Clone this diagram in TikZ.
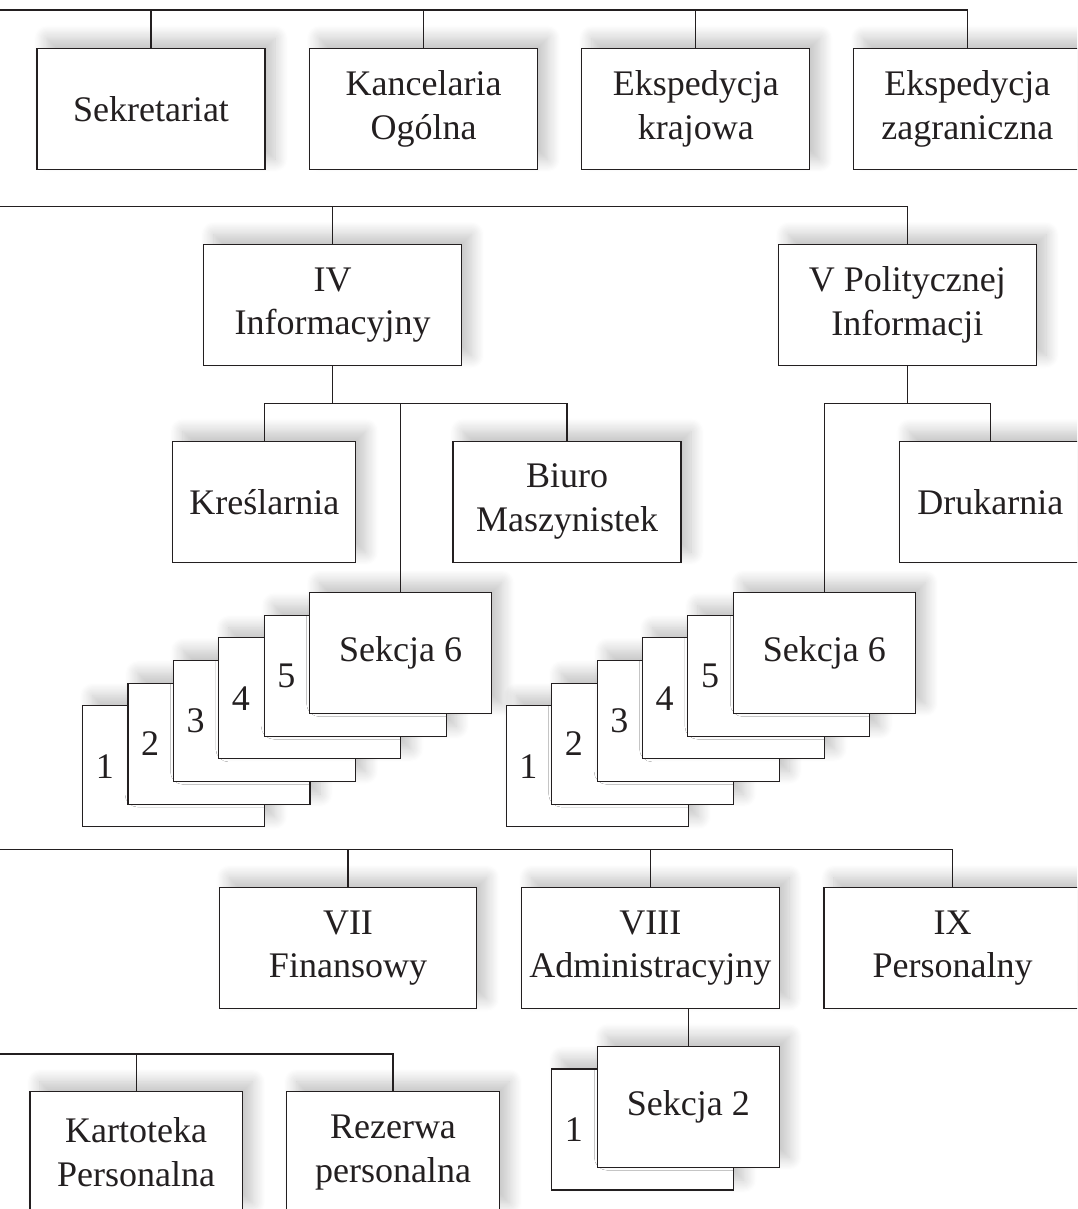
\documentclass[tikz,border=0pt]{standalone}
\usepackage{fontspec}
\setmainfont{Liberation Serif}
\usetikzlibrary{shadows.blur}
\definecolor{ink}{HTML}{231F20}
\begin{document}
\begin{tikzpicture}[x=1pt,y=-1pt,
  every node/.style={text=ink},
  unit/.style={draw=ink, line width=1.1pt, fill=white, minimum height=121pt,
    inner sep=0pt, align=center, font=\fontsize{36}{43.5}\selectfont,
    blur shadow={shadow xshift=10pt, shadow yshift=10pt,
      shadow blur radius=13pt, shadow blur steps=12, shadow opacity=24}},
  wide/.style={unit, minimum width=257.5pt},
  mid/.style={unit, minimum width=228pt},
  narrow/.style={unit, minimum width=182pt},
  card/.style={unit, minimum width=212.5pt},
  conn/.style={draw=ink, line width=1.1pt},
  num/.style={inner sep=0pt, font=\fontsize{36}{43.5}\selectfont}]
\useasboundingbox (0,0) rectangle (1077,1209);
\clip (0,0) rectangle (1077,1209);

% ---- offices under the first bus
\coordinate (bus1) at (-5,10);
\node[mid] (sek)  at (151,108.7)   {Sekretariat};
\node[mid] (kanc) at (423.6,108.7) {Kancelaria\\Ogólna};
\node[mid] (kraj) at (695.8,108.7) {Ekspedycja\\krajowa};
\node[mid] (zagr) at (967.4,108.7) {Ekspedycja\\zagraniczna};
\draw[conn] (bus1) -| (zagr.north);
\foreach \b in {sek,kanc,kraj} \draw[conn] (\b.north) -- (\b.north |- bus1);

% ---- departments IV and V
\coordinate (bus2) at (-5,206.7);
\node[wide] (dIV) at (332.6,305) {IV\\Informacyjny};
\node[wide] (dV)  at (907.3,305) {V Politycznej\\Informacji};
\draw[conn] (bus2) -| (dV.north);
\draw[conn] (dIV.north) -- (dIV.north |- bus2);

\node[narrow, minimum width=182.8pt] (kres) at (264.3,501.7) {Kreślarnia};
\node[mid] (biuro) at (567,501.7) {Biuro\\Maszynistek};
\node[narrow] (druk) at (990.3,502) {Drukarnia};

% section stack of department IV
\foreach \n in {1,...,5} {
  \pgfmathsetmacro\m{6-\n}
  \node[narrow] (L\n) at ({400.6-45.4*\m},{653.2+22.6*\m}) {};
  \node[num] (Ln\n) at ([xshift=22.7pt]L\n.west) {\n};
}
\node[narrow] (L6) at (400.6,653.2) {Sekcja 6};

% section stack of department V
\foreach \n in {1,...,5} {
  \pgfmathsetmacro\m{6-\n}
  \node[narrow] (R\n) at ({824.3-45.4*\m},{653.2+22.6*\m}) {};
  \node[num] (Rn\n) at ([xshift=22.7pt]R\n.west) {\n};
}
\node[narrow] (R6) at (824.3,653.2) {Sekcja 6};

\coordinate (jIV) at (332.6,403.3);
\draw[conn] (dIV.south) -- (jIV);
\draw[conn] (kres.north) -- (kres.north |- jIV) -- (biuro.north |- jIV) -- (biuro.north);
\draw[conn] (L6.north) -- (L6.north |- jIV);

\coordinate (jV) at (907.3,403.3);
\draw[conn] (dV.south) -- (jV);
\draw[conn] (R6.north) -- (R6.north |- jV) -- (druk.north |- jV) -- (druk.north);

% ---- departments VII, VIII, IX
\coordinate (bus3) at (-5,849.5);
\node[wide] (dVII)  at (348,948.2)   {VII\\Finansowy};
\node[wide] (dVIII) at (650.4,948.2) {VIII\\Administracyjny};
\node[wide] (dIX)   at (952.7,948.2) {IX\\Personalny};
\draw[conn] (bus3) -| (dIX.north);
\foreach \b in {dVII,dVIII} \draw[conn] (\b.north) -- (\b.north |- bus3);

\node[narrow] (A1) at (642.8,1129.5) {};
\node[num] (An1) at ([xshift=22.7pt]A1.west) {1};
\node[narrow] (A2) at (688.3,1106.8) {Sekcja 2};
\draw[conn] (A2.north) -- (A2.north |- dVIII.south);

% ---- personnel registers
\coordinate (bus4) at (-5,1054);
\node[card] (kart) at (136.2,1152.3) {Kartoteka\\Personalna};
\node[card] (rez)  at (393,1152.3)   {Rezerwa\\personalna};
\draw[conn] (bus4) -| (rez.north);
\draw[conn] (kart.north) -- (kart.north |- bus4);
\end{tikzpicture}
\end{document}
